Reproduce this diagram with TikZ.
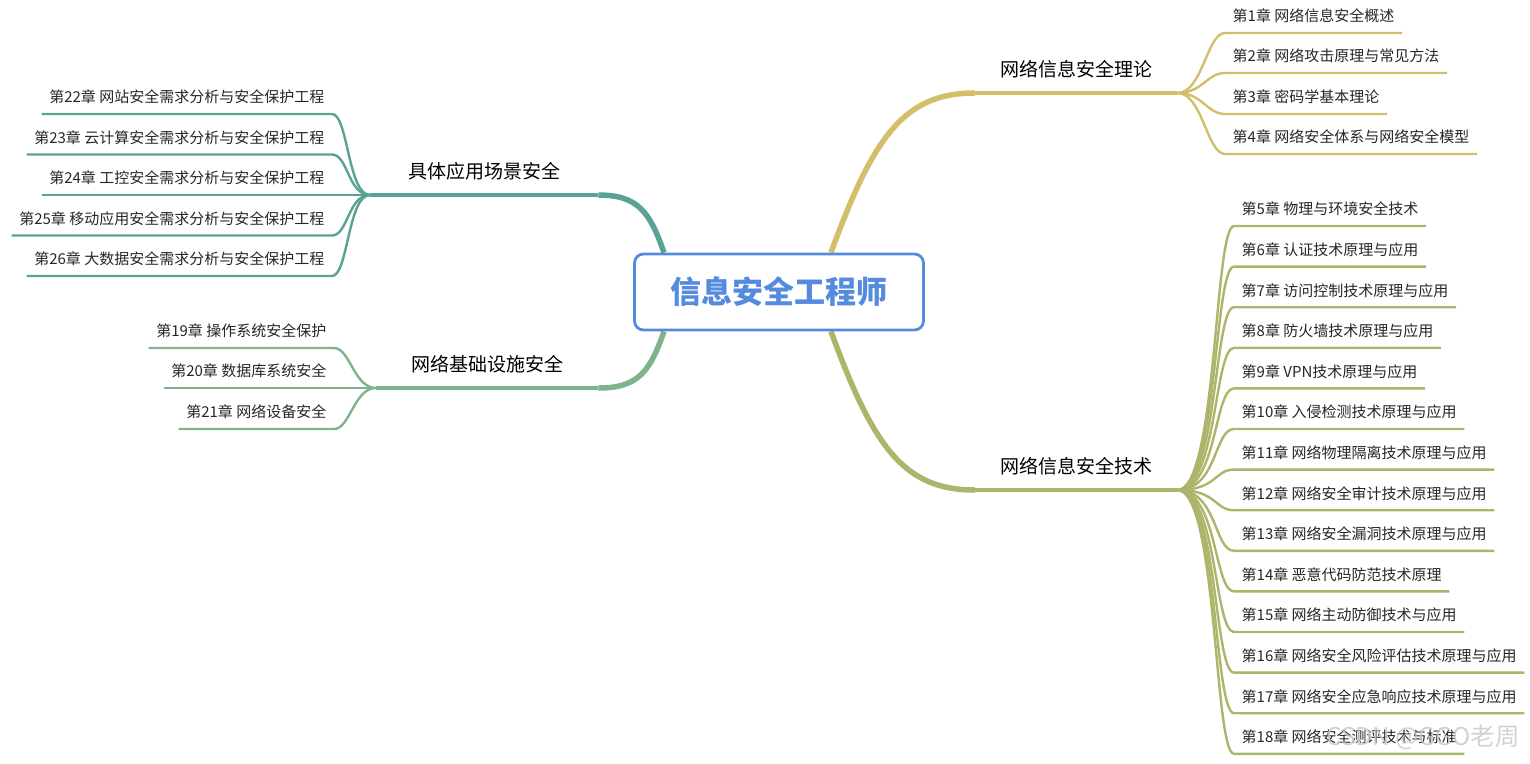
\documentclass[tikz,border=0pt]{standalone}
\usepackage{fontspec}
\setmainfont{Noto Sans CJK SC}
\usetikzlibrary{backgrounds}

\definecolor{cblue}{RGB}{84,139,222}
\definecolor{cgold}{RGB}{212,190,106}
\definecolor{colive}{RGB}{174,180,106}
\definecolor{cteal}{RGB}{88,163,150}
\definecolor{cgreen}{RGB}{125,180,140}

\begin{document}
\begin{tikzpicture}[
  x=1pt, y=-1pt,
  root/.style={rectangle, rounded corners=9pt, draw=cblue, line width=2.8pt, fill=white,
               text=cblue, minimum width=289pt, minimum height=76pt,
               font=\fontsize{31}{36}\selectfont\bfseries},
  topic/.style={inner xsep=0pt, inner ysep=12pt, text height=14pt, text depth=4pt,
                font=\fontsize{19}{22}\selectfont, text=black},
  leaf/.style={inner xsep=7.5pt, inner ysep=8pt, text height=11pt, text depth=3pt,
               font=\fontsize{15}{18}\selectfont, text=black!85},
  trunk/.style={line width=5.5pt},
  bar/.style={line width=3.2pt},
  twig/.style={line width=2.4pt},
  stamp/.style={font=\fontsize{24.5}{28}\selectfont, text=gray!45, opacity=0.8, inner sep=0pt},
]
\useasboundingbox (0,0) rectangle (1530,763);

\node[root] (root) at (779,292) {信息安全工程师};

% branches
\node[topic, minimum width=202pt, anchor=south west] (th) at (975,93)  {网络信息安全理论};
\node[topic, minimum width=202pt, anchor=south west] (te) at (975,490) {网络信息安全技术};
\node[topic, minimum width=228pt, anchor=south west] (ap) at (370,195) {具体应用场景安全};
\node[topic, minimum width=222pt, anchor=south west] (in) at (376,388) {网络基础设施安全};

% theory
\node[leaf, anchor=south west] (c1) at (1225,33)  {第1章 网络信息安全概述};
\node[leaf, anchor=south west] (c2) at (1225,73)  {第2章 网络攻击原理与常见方法};
\node[leaf, anchor=south west] (c3) at (1225,114) {第3章 密码学基本理论};
\node[leaf, anchor=south west] (c4) at (1225,154) {第4章 网络安全体系与网络安全模型};

% techniques
\node[leaf, anchor=south west] (c5)  at (1234,226)   {第5章 物理与环境安全技术};
\node[leaf, anchor=south west] (c6)  at (1234,266.6) {第6章 认证技术原理与应用};
\node[leaf, anchor=south west] (c7)  at (1234,307.2) {第7章 访问控制技术原理与应用};
\node[leaf, anchor=south west] (c8)  at (1234,347.8) {第8章 防火墙技术原理与应用};
\node[leaf, anchor=south west] (c9)  at (1234,388.4) {第9章 VPN技术原理与应用};
\node[leaf, anchor=south west] (c10) at (1234,429)   {第10章 入侵检测技术原理与应用};
\node[leaf, anchor=south west] (c11) at (1234,469.6) {第11章 网络物理隔离技术原理与应用};
\node[leaf, anchor=south west] (c12) at (1234,510.2) {第12章 网络安全审计技术原理与应用};
\node[leaf, anchor=south west] (c13) at (1234,550.8) {第13章 网络安全漏洞技术原理与应用};
\node[leaf, anchor=south west] (c14) at (1234,591.4) {第14章 恶意代码防范技术原理};
\node[leaf, anchor=south west] (c15) at (1234,632)   {第15章 网络主动防御技术与应用};
\node[leaf, anchor=south west] (c16) at (1234,672.6) {第16章 网络安全风险评估技术原理与应用};
\node[leaf, anchor=south west] (c17) at (1234,713.2) {第17章 网络安全应急响应技术原理与应用};
\node[leaf, anchor=south west] (c18) at (1234,753.8) {第18章 网络安全测评技术与标准};

% infrastructure
\node[leaf, anchor=south east] (c19) at (334,348) {第19章 操作系统安全保护};
\node[leaf, anchor=south east] (c20) at (334,388) {第20章 数据库系统安全};
\node[leaf, anchor=south east] (c21) at (334,429) {第21章 网络设备安全};

% scenarios
\node[leaf, anchor=south east] (c22) at (332,114)   {第22章 网站安全需求分析与安全保护工程};
\node[leaf, anchor=south east] (c23) at (332,154.5) {第23章 云计算安全需求分析与安全保护工程};
\node[leaf, anchor=south east] (c24) at (332,195)   {第24章 工控安全需求分析与安全保护工程};
\node[leaf, anchor=south east] (c25) at (332,235.5) {第25章 移动应用安全需求分析与安全保护工程};
\node[leaf, anchor=south east] (c26) at (332,276)   {第26章 大数据安全需求分析与安全保护工程};

\node[stamp] (wm) at (1423,737) {CSDN @GGO老周};

\begin{scope}[on background layer]
% trunks
\draw[trunk, cgold]  ([xshift=52]root.north) .. controls +(43,-118) and +(-70,0) .. (th.south west);
\draw[trunk, colive] ([xshift=52]root.south) .. controls +(43,118) and +(-70,0) .. (te.south west);
\draw[trunk, cteal]  ([xshift=-115]root.north) .. controls +(-14,-40) and +(40,0) .. (ap.south east);
\draw[trunk, cgreen] ([xshift=-115]root.south) .. controls +(-14,40) and +(40,0) .. (in.south east);
\draw[bar, cgold]  (th.south west) -- (th.south east);
\draw[bar, colive] (te.south west) -- (te.south east);
\draw[bar, cteal]  (ap.south west) -- (ap.south east);
\draw[bar, cgreen] (in.south west) -- (in.south east);

% theory twigs
\draw[twig, cgold] (th.south east) .. controls +(25,0) and +(-18,0) .. (c1.south west) -- (c1.south east);
\draw[twig, cgold] (th.south east) .. controls +(25,0) and +(-18,0) .. (c2.south west) -- (c2.south east);
\draw[twig, cgold] (th.south east) .. controls +(25,0) and +(-18,0) .. (c3.south west) -- (c3.south east);
\draw[twig, cgold] (th.south east) .. controls +(25,0) and +(-18,0) .. (c4.south west) -- (c4.south east);

% technique twigs
\draw[twig, colive] (te.south east) .. controls +(40,0) and +(-20,0) .. (c5.south west)  -- (c5.south east);
\draw[twig, colive] (te.south east) .. controls +(40,0) and +(-20,0) .. (c6.south west)  -- (c6.south east);
\draw[twig, colive] (te.south east) .. controls +(40,0) and +(-20,0) .. (c7.south west)  -- (c7.south east);
\draw[twig, colive] (te.south east) .. controls +(40,0) and +(-20,0) .. (c8.south west)  -- (c8.south east);
\draw[twig, colive] (te.south east) .. controls +(40,0) and +(-20,0) .. (c9.south west)  -- (c9.south east);
\draw[twig, colive] (te.south east) .. controls +(40,0) and +(-20,0) .. (c10.south west) -- (c10.south east);
\draw[twig, colive] (te.south east) .. controls +(40,0) and +(-20,0) .. (c11.south west) -- (c11.south east);
\draw[twig, colive] (te.south east) .. controls +(40,0) and +(-20,0) .. (c12.south west) -- (c12.south east);
\draw[twig, colive] (te.south east) .. controls +(40,0) and +(-20,0) .. (c13.south west) -- (c13.south east);
\draw[twig, colive] (te.south east) .. controls +(40,0) and +(-20,0) .. (c14.south west) -- (c14.south east);
\draw[twig, colive] (te.south east) .. controls +(40,0) and +(-20,0) .. (c15.south west) -- (c15.south east);
\draw[twig, colive] (te.south east) .. controls +(40,0) and +(-20,0) .. (c16.south west) -- (c16.south east);
\draw[twig, colive] (te.south east) .. controls +(40,0) and +(-20,0) .. (c17.south west) -- (c17.south east);
\draw[twig, colive] (te.south east) .. controls +(40,0) and +(-20,0) .. (c18.south west) -- (c18.south east);

% infrastructure twigs
\draw[twig, cgreen] (in.south west) .. controls +(-22,0) and +(16,0) .. (c19.south east) -- (c19.south west);
\draw[twig, cgreen] (in.south west) .. controls +(-22,0) and +(16,0) .. (c20.south east) -- (c20.south west);
\draw[twig, cgreen] (in.south west) .. controls +(-22,0) and +(16,0) .. (c21.south east) -- (c21.south west);

% scenario twigs
\draw[twig, cteal] (ap.south west) .. controls +(-22,0) and +(16,0) .. (c22.south east) -- (c22.south west);
\draw[twig, cteal] (ap.south west) .. controls +(-22,0) and +(16,0) .. (c23.south east) -- (c23.south west);
\draw[twig, cteal] (ap.south west) .. controls +(-22,0) and +(16,0) .. (c24.south east) -- (c24.south west);
\draw[twig, cteal] (ap.south west) .. controls +(-22,0) and +(16,0) .. (c25.south east) -- (c25.south west);
\draw[twig, cteal] (ap.south west) .. controls +(-22,0) and +(16,0) .. (c26.south east) -- (c26.south west);
\end{scope}

\end{tikzpicture}
\end{document}
